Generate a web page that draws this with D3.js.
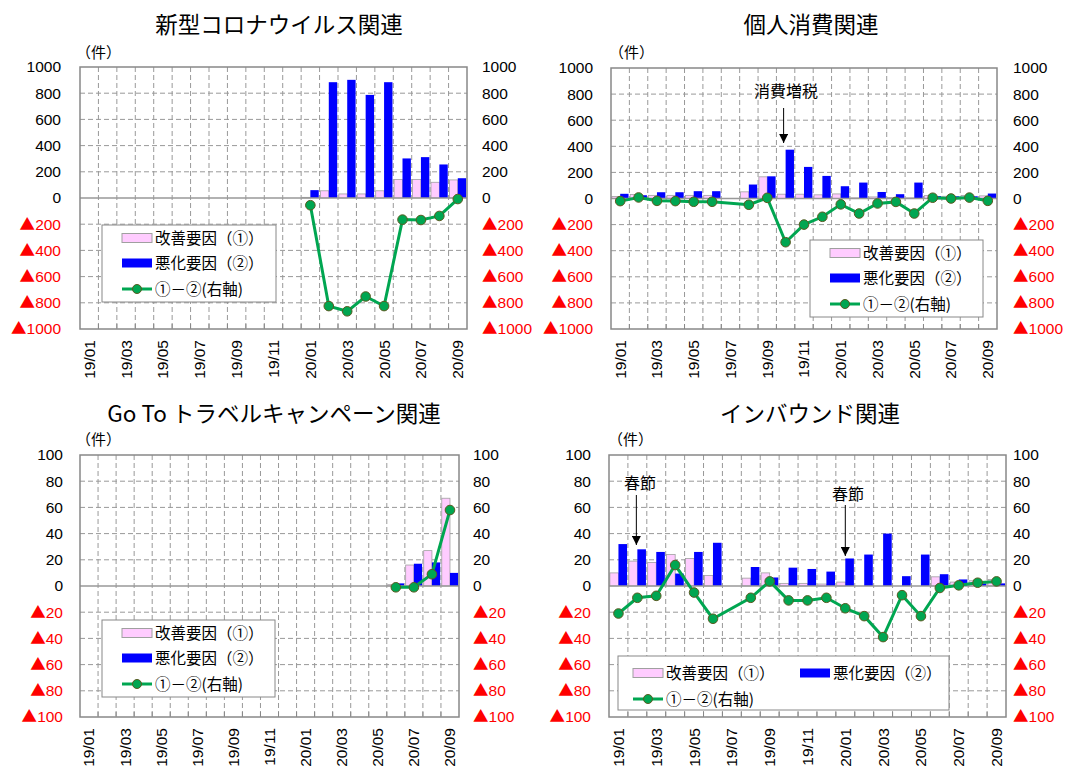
<!DOCTYPE html>
<html>
<head>
<meta charset="utf-8">
<script src="https://cdn.jsdelivr.net/npm/d3@7"></script>
<style>
  body { margin: 0; background: #fff; }
  svg { display: block; }
  text { font-family: "Liberation Sans", Arial, "Noto Sans CJK JP", sans-serif; }
  .jp { font-family: "Noto Sans CJK JP", sans-serif; }
</style>
</head>
<body>
<svg id="chart" width="1065" height="773"></svg>
<script>
// months on the category axis
const months = ["19/01","19/02","19/03","19/04","19/05","19/06","19/07","19/08","19/09","19/10","19/11","19/12",
                "20/01","20/02","20/03","20/04","20/05","20/06","20/07","20/08","20/09"];
const tickMonths = months.filter((m, i) => i % 2 == 0);

// 新型コロナウイルス関連
const covidImprove = [null,null,null,null,null,null,null,null,null,null,null,null, 5, 55, 31, 31, 55, 141, 141, 120, 138];
const covidWorsen  = [null,null,null,null,null,null,null,null,null,null,null,null, 60, 884, 902, 787, 884, 302, 312, 256, 151];
const covidDiff    = [null,null,null,null,null,null,null,null,null,null,null,null, -55, -825, -865, -752, -825, -165, -168, -137, -8];

// 個人消費関連
const consumeImprove = [15, 30, 24, 24, 24, 24, null, 51, 166, 33, 33, 28, 35, 5, 12, 8, 5, 22, 17, 24, 20];
const consumeWorsen  = [36, 25, 48, 48, 56, 56, null, 107, 170, 374, 242, 173, 94, 122, 50, 33, 122, 18, 17, 17, 38];
const consumeDiff    = [-20, 8, -18, -20, -25, -25, null, -48, 5, -335, -200, -140, -45, -115, -38, -26, -115, 6, 0, 7, -18];

// Go To トラベルキャンペーン関連
const gotoImprove = [null,null,null,null,null,null,null,null,null,null,null,null,null,null,null,null,null, 1, 16, 27, 67];
const gotoWorsen  = [null,null,null,null,null,null,null,null,null,null,null,null,null,null,null,null,null, 2, 17, 18, 10];
const gotoDiff    = [null,null,null,null,null,null,null,null,null,null,null,null,null,null,null,null,null, -1, -1, 9, 58];

// インバウンド関連
const inboundImprove = [10, 19, 18, 24, 21, 8, null, 6, 10, 2, 2, 1.5, 3, 0, 0, 0, 0, 7, 3, 4, 5];
const inboundWorsen  = [32, 28, 26, 9.5, 26, 33, null, 14.5, 6.5, 14, 13, 11, 21, 24, 40, 7.5, 24, 9, 5, 2, 2];
const inboundDiff    = [-21, -9, -7.5, 16, -5, -25, null, -9, 3.5, -11, -11, -9, -17, -23, -39, -7, -23, -1.5, 0.5, 2.5, 3.5];

const legendLabels = ["改善要因（①）", "悪化要因（②）", "①－②(右軸)"];

const pink = "#ffccff", blue = "#0000ff", green = "#00a651";

const panels = [
  { title: "新型コロナウイルス関連", improve: covidImprove, worsen: covidWorsen, diff: covidDiff,
    yMax: 1000, step: 200, x0: 80, x1: 467, y0: 67, y1: 329, titleX: 279, titleY: 33, unitX: 76, unitY: 58,
    leftPad: 19, rightPad: 15,
    legend: { x: 102, y: 225, w: 174, h: 77, horizontal: false }, notes: [] },
  { title: "個人消費関連", improve: consumeImprove, worsen: consumeWorsen, diff: consumeDiff,
    yMax: 1000, step: 200, x0: 611, x1: 997, y0: 68, y1: 329, titleX: 811, titleY: 33, unitX: 609, unitY: 58,
    leftPad: 18, rightPad: 16,
    legend: { x: 810, y: 240, w: 173, h: 77, horizontal: false },
    notes: [{ month: "19/10", text: "消費増税", dx: -2, tx: 786, ty: 97, from: 108, to: 143 }] },
  { title: "Go To トラベルキャンペーン関連", improve: gotoImprove, worsen: gotoWorsen, diff: gotoDiff,
    yMax: 100, step: 20, x0: 80, x1: 459, y0: 455, y1: 717, titleX: 274, titleY: 422, unitX: 76, unitY: 445,
    leftPad: 17, rightPad: 14,
    legend: { x: 102, y: 620, w: 173, h: 77, horizontal: false }, notes: [] },
  { title: "インバウンド関連", improve: inboundImprove, worsen: inboundWorsen, diff: inboundDiff,
    yMax: 100, step: 20, x0: 609, x1: 1006, y0: 455, y1: 717, titleX: 810, titleY: 422, unitX: 608, unitY: 445,
    leftPad: 18, rightPad: 7,
    legend: { x: 618, y: 656, w: 331, h: 54, horizontal: true },
    notes: [{ month: "19/02", text: "春節", dx: -1, tx: 640, ty: 489, from: 495, to: 545 },
            { month: "20/01", text: "春節", dx: 0, tx: 848, ty: 500, from: 505, to: 556 }] }
];

const svg = d3.select("#chart");

svg.append("defs").append("marker")
  .attr("id", "arrow").attr("viewBox", "0 0 10 10")
  .attr("refX", 10).attr("refY", 5)
  .attr("markerWidth", 9).attr("markerHeight", 9)
  .attr("markerUnits", "userSpaceOnUse")
  .attr("orient", "auto")
  .append("path").attr("d", "M0,0L10,5L0,10Z").attr("fill", "#000");

function fmt(v) { return v < 0 ? "▲" + (-v) : String(v); }

// put the ▲ into a CJK font so it is as wide as in the original
function styleTicks(sel) {
  sel.selectAll("text").each(function (d) {
    var t = d3.select(this);
    t.style("font-size", "15.5px").style("font-family", "Liberation Sans, Arial, sans-serif")
      .attr("fill", d < 0 ? "#ff0000" : "#000");
    if (d < 0) {
      t.text(null);
      t.append("tspan").style("font-family", "Noto Sans CJK JP").text("▲");
      t.append("tspan").text(-d);
    }
  });
}

panels.forEach(function (p) {
  var g = svg.append("g");
  var x = d3.scaleBand().domain(months).range([p.x0, p.x1]).padding(0);
  var bw = x.bandwidth();
  var sub = d3.scaleBand().domain(["imp", "wor"]).range([0, bw]).paddingInner(0).paddingOuter(0.1);
  var y = d3.scaleLinear().domain([-p.yMax, p.yMax]).range([p.y1, p.y0]);
  var ticks = d3.range(-p.yMax, p.yMax + 1, p.step);

  // title & unit
  g.append("text").attr("class", "jp").attr("x", p.titleX).attr("y", p.titleY)
    .attr("text-anchor", "middle").style("font-size", "22.5px").text(p.title);
  g.append("text").attr("class", "jp").attr("x", p.unitX).attr("y", p.unitY)
    .style("font-size", "15px").text("（件）");

  g.append("rect").attr("x", p.x0).attr("y", p.y0).attr("width", p.x1 - p.x0).attr("height", p.y1 - p.y0)
    .attr("fill", "#fff");

  // gridlines
  g.selectAll(".hgrid").data(ticks.filter(t => t != 0 && Math.abs(t) != p.yMax)).enter()
    .append("line").attr("x1", p.x0).attr("x2", p.x1)
    .attr("y1", d => y(d)).attr("y2", d => y(d))
    .attr("stroke", "#999").attr("stroke-dasharray", "5,3");
  g.selectAll(".vgrid").data(months.slice(1)).enter()
    .append("line").attr("x1", d => x(d)).attr("x2", d => x(d))
    .attr("y1", p.y0).attr("y2", p.y1)
    .attr("stroke", "#999").attr("stroke-dasharray", "5,3");
  g.selectAll(".xtick").data(months.slice(1)).enter()
    .append("line").attr("x1", d => x(d)).attr("x2", d => x(d))
    .attr("y1", p.y1 - 5).attr("y2", p.y1)
    .attr("stroke", "#888");

  // bars
  var rows = months.map((m, i) => ({ m: m, imp: p.improve[i], wor: p.worsen[i], diff: p.diff[i] }));
  g.selectAll(".imp").data(rows.filter(d => d.imp != null)).enter()
    .append("rect")
    .attr("x", d => x(d.m) + sub("imp")).attr("width", sub.bandwidth())
    .attr("y", d => y(d.imp)).attr("height", d => y(0) - y(d.imp))
    .attr("fill", pink).attr("stroke", "#a0a0a0").attr("stroke-width", 0.8);
  g.selectAll(".wor").data(rows.filter(d => d.wor != null)).enter()
    .append("rect")
    .attr("x", d => x(d.m) + sub("wor")).attr("width", sub.bandwidth())
    .attr("y", d => y(d.wor)).attr("height", d => y(0) - y(d.wor))
    .attr("fill", blue);

  // zero line & frame
  g.append("line").attr("x1", p.x0).attr("x2", p.x1).attr("y1", y(0)).attr("y2", y(0))
    .attr("stroke", "#999").attr("stroke-width", 1.5);
  g.append("rect").attr("x", p.x0).attr("y", p.y0).attr("width", p.x1 - p.x0).attr("height", p.y1 - p.y0)
    .attr("fill", "none").attr("stroke", "#888").attr("stroke-width", 1.5);

  // line ①－②
  var pts = rows.filter(d => d.diff != null);
  var line = d3.line().x(d => x(d.m) + bw / 2).y(d => y(d.diff));
  g.append("path").datum(pts).attr("d", line)
    .attr("fill", "none").attr("stroke", green).attr("stroke-width", 3);
  g.selectAll(".dot").data(pts).enter()
    .append("circle").attr("cx", d => x(d.m) + bw / 2).attr("cy", d => y(d.diff)).attr("r", 4.8)
    .attr("fill", green).attr("stroke", "#5a5a20").attr("stroke-width", 1);

  // axes
  var left = g.append("g").attr("transform", "translate(" + p.x0 + ",0)")
    .call(d3.axisLeft(y).tickValues(ticks).tickSize(0).tickPadding(p.leftPad).tickFormat(fmt));
  var right = g.append("g").attr("transform", "translate(" + p.x1 + ",0)")
    .call(d3.axisRight(y).tickValues(ticks).tickSize(0).tickPadding(p.rightPad).tickFormat(fmt));
  [left, right].forEach(function (a) {
    a.select(".domain").remove();
    styleTicks(a);
  });
  var bottom = g.append("g").attr("transform", "translate(0," + p.y1 + ")")
    .call(d3.axisBottom(x).tickValues(tickMonths).tickSize(0));
  bottom.select(".domain").remove();
  bottom.selectAll("text")
    .attr("transform", "rotate(-90)").attr("x", -11).attr("y", 0).attr("dy", "0.35em")
    .style("text-anchor", "end").style("font-size", "15.5px")
    .style("font-family", "Liberation Sans, Arial, sans-serif").attr("fill", "#000");

  // legend
  var L = p.legend;
  var lg = g.append("g");
  lg.append("rect").attr("x", L.x).attr("y", L.y).attr("width", L.w).attr("height", L.h)
    .attr("fill", "#fff").attr("stroke", "#888").attr("stroke-width", 1);
  var items = L.horizontal
    ? [{ sx: L.x + 15, cy: L.y + 17 }, { sx: L.x + 182, cy: L.y + 17 }, { sx: L.x + 15, cy: L.y + 43 }]
    : [{ sx: L.x + 20, cy: L.y + 13 }, { sx: L.x + 20, cy: L.y + 38 }, { sx: L.x + 20, cy: L.y + 64 }];
  items.forEach(function (it, i) {
    if (i == 0) {
      lg.append("rect").attr("x", it.sx).attr("y", it.cy - 4.5).attr("width", 30).attr("height", 9)
        .attr("fill", pink).attr("stroke", "#a0a0a0");
    } else if (i == 1) {
      lg.append("rect").attr("x", it.sx).attr("y", it.cy - 4.5).attr("width", 30).attr("height", 9)
        .attr("fill", blue);
    } else {
      lg.append("line").attr("x1", it.sx).attr("x2", it.sx + 30).attr("y1", it.cy).attr("y2", it.cy)
        .attr("stroke", green).attr("stroke-width", 3);
      lg.append("circle").attr("cx", it.sx + 15).attr("cy", it.cy).attr("r", 4.5)
        .attr("fill", green).attr("stroke", "#5a5a20");
    }
    lg.append("text").attr("class", "jp").attr("x", it.sx + 33).attr("y", it.cy).attr("dy", "0.36em")
      .style("font-size", "15.5px").text(legendLabels[i]);
  });

  // annotations
  p.notes.forEach(function (n) {
    var ax = x(n.month) + bw / 2 + n.dx;
    g.append("text").attr("class", "jp").attr("x", n.tx).attr("y", n.ty)
      .attr("text-anchor", "middle").style("font-size", "16px").text(n.text);
    g.append("line").attr("x1", ax).attr("x2", ax).attr("y1", n.from).attr("y2", n.to)
      .attr("stroke", "#000").attr("stroke-width", 1).attr("marker-end", "url(#arrow)");
  });
});
</script>
</body>
</html>
